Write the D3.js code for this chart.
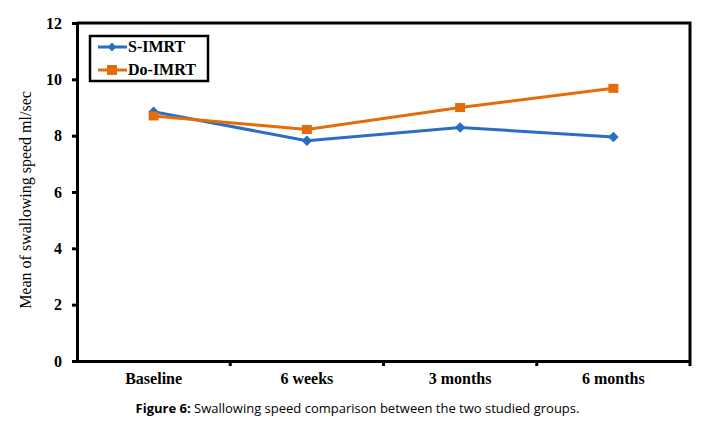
<!DOCTYPE html>
<html>
<head>
<meta charset="utf-8">
<script src="https://cdn.jsdelivr.net/npm/d3@7"></script>
<style>
  body { margin: 0; background: #fff; }
  svg { display: block; }
</style>
</head>
<body>
<div id="chart"></div>
<script>
// Chart data
const categories = ["Baseline", "6 weeks", "3 months", "6 months"];
const sImrt = [8.85, 7.82, 8.29, 7.95];
const doImrt = [8.7, 8.22, 9.0, 9.68];
const yTicks = [0, 2, 4, 6, 8, 10, 12];
const seriesNames = ["S-IMRT", "Do-IMRT"];

const W = 703, H = 429;
const margin = { top: 23, right: 13, bottom: 68, left: 77 };
const width = W - margin.left - margin.right;
const height = H - margin.top - margin.bottom;

const blue = "#2a6ec4";
const orange = "#e46c0a";
const serif = "'Liberation Serif', 'Times New Roman', serif";

const svg = d3.select("#chart").append("svg")
    .attr("width", W)
    .attr("height", H);

const g = svg.append("g")
    .attr("transform", `translate(${margin.left},${margin.top})`);

const x = d3.scaleBand().domain(categories).range([0, width]).padding(0);
const y = d3.scaleLinear().domain([0, 12]).range([height, 0]);

// frame (top and right)
g.append("path")
    .attr("d", `M0,0H${width}V${height}`)
    .attr("fill", "none")
    .attr("stroke", "#000")
    .attr("stroke-width", 3);

// y axis
const yAxis = g.append("g")
    .call(d3.axisLeft(y).tickValues(yTicks).tickSize(5).tickPadding(10));
yAxis.select(".domain").attr("stroke-width", 3);
yAxis.selectAll(".tick line").attr("stroke-width", 3);
yAxis.selectAll("text")
    .style("font-family", serif)
    .style("font-weight", "bold")
    .style("font-size", "16px")
    .attr("fill", "#000");

// x axis with ticks at band edges
const xAxis = g.append("g")
    .attr("transform", `translate(0,${height})`)
    .call(d3.axisBottom(x).tickSize(0).tickPadding(12));
xAxis.select(".domain").attr("stroke-width", 3);
xAxis.selectAll("text")
    .style("font-family", serif)
    .style("font-weight", "bold")
    .style("font-size", "16px")
    .attr("fill", "#000");
g.selectAll(".xedge")
    .data(categories)
    .enter().append("line")
    .attr("x1", d => x(d) + x.bandwidth())
    .attr("x2", d => x(d) + x.bandwidth())
    .attr("y1", height)
    .attr("y2", height + 5)
    .attr("stroke", "#000")
    .attr("stroke-width", 3);

// y axis label
svg.append("text")
    .attr("transform", `translate(31,${margin.top + height / 2 + 8}) rotate(-90)`)
    .attr("text-anchor", "middle")
    .style("font-family", serif)
    .style("font-size", "16px")
    .text("Mean of swallowing speed ml/sec");

const cx = d => x(d) + x.bandwidth() / 2;
const line = d3.line()
    .x((d, i) => cx(categories[i]))
    .y(d => y(d));

// S-IMRT
g.append("path").datum(sImrt)
    .attr("d", line)
    .attr("fill", "none")
    .attr("stroke", blue)
    .attr("stroke-width", 3);
g.selectAll(".dia").data(sImrt).enter().append("path")
    .attr("d", d3.symbol().type(d3.symbolDiamond2).size(70))
    .attr("transform", (d, i) => `translate(${cx(categories[i])},${y(d)})`)
    .attr("fill", blue);

// Do-IMRT
g.append("path").datum(doImrt)
    .attr("d", line)
    .attr("fill", "none")
    .attr("stroke", orange)
    .attr("stroke-width", 3);
g.selectAll(".sq").data(doImrt).enter().append("rect")
    .attr("x", (d, i) => cx(categories[i]) - 5)
    .attr("y", d => y(d) - 4.5)
    .attr("width", 10)
    .attr("height", 9)
    .attr("fill", orange);

// legend
const lg = svg.append("g").attr("transform", "translate(90,36)");
lg.append("rect")
    .attr("width", 118).attr("height", 45)
    .attr("fill", "#fff").attr("stroke", "#000").attr("stroke-width", 2.5);
const colors = [blue, orange];
seriesNames.forEach((name, i) => {
    const ry = 11 + i * 23;
    lg.append("line")
        .attr("x1", 8).attr("x2", 37).attr("y1", ry).attr("y2", ry)
        .attr("stroke", colors[i]).attr("stroke-width", 3);
    if (i === 0) {
        lg.append("path")
            .attr("d", d3.symbol().type(d3.symbolDiamond2).size(50))
            .attr("transform", `translate(22,${ry})`)
            .attr("fill", colors[i]);
    } else {
        lg.append("rect")
            .attr("x", 17).attr("y", ry - 5).attr("width", 10).attr("height", 10)
            .attr("fill", colors[i]);
    }
    lg.append("text")
        .attr("x", 38).attr("y", ry + 5)
        .style("font-family", serif)
        .style("font-weight", "bold")
        .style("font-size", "16px")
        .text(name);
});

// caption
const cap = svg.append("text")
    .attr("x", W / 2 + 6).attr("y", 413)
    .attr("text-anchor", "middle")
    .style("font-family", "'Open Sans', 'Noto Sans', sans-serif")
    .style("font-size", "13px");
cap.append("tspan").style("font-weight", "bold").text("Figure 6:");
cap.append("tspan").text(" Swallowing speed comparison between the two studied groups.");
</script>
</body>
</html>
